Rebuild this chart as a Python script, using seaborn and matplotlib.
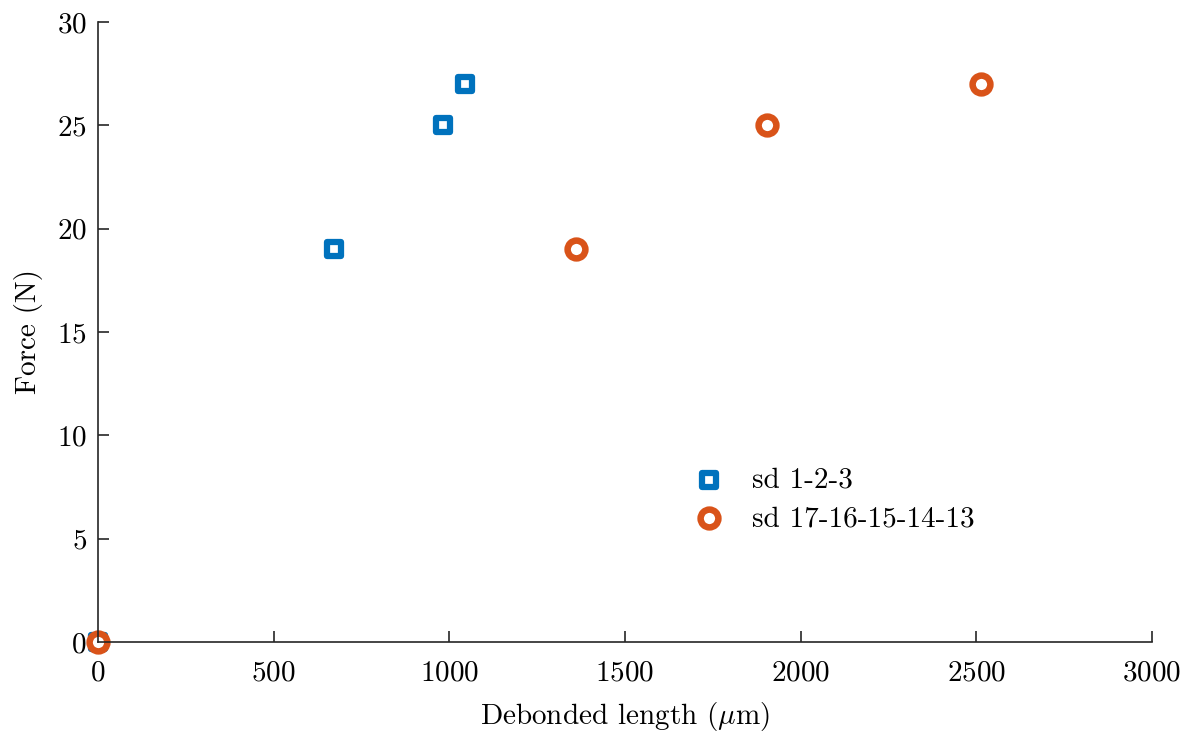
import numpy as np
import pandas as pd
import matplotlib
matplotlib.use("Agg")
import matplotlib.pyplot as plt
import seaborn as sns

# data
sd123_length = [0, 672, 982, 1045]
sd123_force = [0, 19, 25, 27]
sd1713_length = [0, 1361, 1904, 2513]
sd1713_force = [0, 19, 25, 27]
series_labels = ["sd 1-2-3", "sd 17-16-15-14-13"]
x_ticks = [0, 500, 1000, 1500, 2000, 2500, 3000]
y_ticks = [0, 5, 10, 15, 20, 25, 30]

blue = "#0072BD"
orange = "#D95319"

sns.set_style("ticks")
plt.rcParams["font.family"] = ["cmr10", "DejaVu Serif"]
plt.rcParams["mathtext.fontset"] = "cm"
plt.rcParams["axes.formatter.use_mathtext"] = True
plt.rcParams["axes.unicode_minus"] = False
plt.rcParams["text.color"] = "black"
plt.rcParams["axes.labelcolor"] = "black"
plt.rcParams["xtick.labelcolor"] = "black"
plt.rcParams["ytick.labelcolor"] = "black"

df_a = pd.DataFrame({"length": sd123_length, "force": sd123_force})
df_b = pd.DataFrame({"length": sd1713_length, "force": sd1713_force})

fig = plt.figure(figsize=(11.9, 7.33), dpi=100)
ax = fig.add_axes([98 / 1190, 1 - 642 / 733, (1152 - 98) / 1190, (642 - 22) / 733])

# markers sit under the spines (like the MATLAB export)
sns.scatterplot(data=df_a, x="length", y="force", marker="s", s=108,
                facecolor="white", edgecolor=blue, linewidth=4.5,
                label=series_labels[0], ax=ax, zorder=2, clip_on=False)
sns.scatterplot(data=df_b, x="length", y="force", marker="o", s=164,
                facecolor="white", edgecolor=orange, linewidth=4.7,
                label=series_labels[1], ax=ax, zorder=2.1, clip_on=False)

ax.set_xlim(0, 3000)
ax.set_ylim(0, 30)
ax.set_xticks(x_ticks)
ax.set_yticks(y_ticks)
ax.tick_params(direction="in", length=8, width=1.2, labelsize=21, color="#262626")
ax.tick_params(axis="x", pad=13)
ax.tick_params(axis="y", pad=8)
for side in ["left", "bottom"]:
    ax.spines[side].set_linewidth(1.2)
    ax.spines[side].set_color("#262626")
    ax.spines[side].set_zorder(3)
sns.despine(ax=ax)

ax.set_xlabel(r"Debonded length ($\mu$m)", fontsize=21, labelpad=10)
ax.set_ylabel("Force (N)", fontsize=21, labelpad=10)

ax.legend(loc="upper left", bbox_to_anchor=(694 / 1190, 1 - 467 / 733),
          bbox_transform=fig.transFigure, frameon=False, fontsize=21,
          handlelength=1.0, handletextpad=1.0, labelspacing=0.42,
          borderpad=0, borderaxespad=0)

fig.savefig("out.png", dpi=100)
